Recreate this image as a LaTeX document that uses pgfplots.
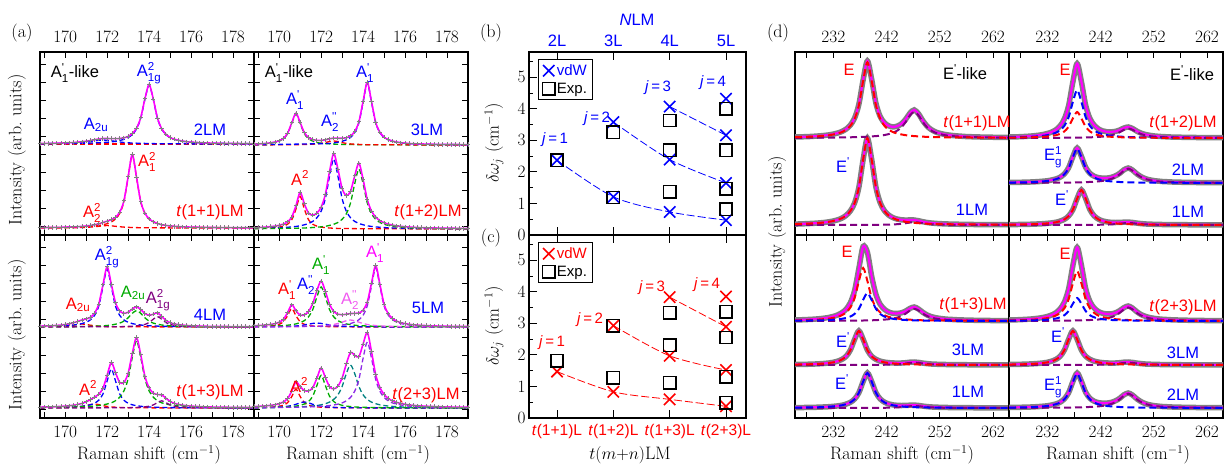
\documentclass[border=0pt]{standalone}
\usepackage{amsmath}
\usepackage{fontspec}
\setsansfont{Liberation Sans}
\usepackage{pgfplots}
\pgfplotsset{compat=1.18}
\usepackage{pgfplotstable}
\definecolor{cblue}{RGB}{0,0,255}
\definecolor{cred}{RGB}{255,0,0}
\definecolor{cgreen}{RGB}{0,170,0}
\definecolor{cmag}{RGB}{255,0,255}
\definecolor{cpurp}{RGB}{128,0,128}
\definecolor{cviol}{RGB}{140,40,230}
\definecolor{cteal}{RGB}{0,128,128}
\definecolor{cgray}{RGB}{128,128,128}
\definecolor{cpink}{RGB}{240,90,240}
\newcommand\LF{\fontsize{16.5}{18}\selectfont\sffamily}
\newcommand\TF{\fontsize{18}{20}\selectfont}
\newcommand\q{\text{\textquotesingle}}
\newcommand\qq{\text{\textquotesingle\textquotesingle}}
\pgfplotsset{
  base/.style={scale only axis, width=214pt, height=183pt, ymin=0, ymax=183, tick align=inside,
    major tick length=6pt, minor tick length=6pt, axis line style={line width=1.1pt},
    tick style={black, line width=0.9pt}, tick label style={font=\TF}, clip=true},
  qa/.style={base, xmin=168.8, xmax=179, xtick={170,172,...,178}, minor xtick={169,171,...,177},
    ytick={9,27,...,180}, yticklabel=\empty},
  qd/.style={base, xmin=224.8, xmax=265, xtick={232,242,252,262}, minor xtick={227,237,247,257}, ytick=\empty},
  toprow/.style={xticklabel pos=top, xtick pos=both, ytick pos=both, xticklabel style={yshift=6pt}},
  botrow/.style={xticklabel pos=bottom, xtick pos=both, ytick pos=both, xticklabel style={yshift=-5pt}},
  dat/.style={only marks, mark=+, mark size=2.2pt, color=cgray, mark options={line width=0.9pt}},
  fitA/.style={cmag, line width=1.6pt, smooth},
  cmp/.style={#1, line width=1.3pt, dash pattern=on 5pt off 3pt, smooth},
  datD/.style={cgray, line width=5.5pt, smooth},
  fitD/.style={cmag, line width=2.2pt, smooth},
  cmpD/.style={#1, line width=2pt, dash pattern=on 7pt off 4pt, smooth},
  bc/.style={at={(529pt,#1)}, anchor=north west, scale only axis, width=217pt, height=183pt,
    xmin=0.503, xmax=4.355, ymin=0, ymax=5.8, xtick={1,2,3,4}, xtick pos=both,
    ytick={0,1,2,3,4,5}, minor ytick={0.5,1.5,2.5,3.5,4.5,5.5}, ytick pos=left,
    yticklabel style={font=\TF}, tick align=inside, major tick length=8pt, minor tick length=4pt,
    axis line style={line width=1.1pt}, tick style={black, line width=0.9pt},
    legend style={at={(0,1)}, anchor=north west, xshift=9pt, yshift=-7pt, draw=black, line width=1pt,
      font=\fontsize{15}{17}\selectfont\sffamily, row sep=2pt, inner xsep=4pt, inner ysep=3pt},
    legend cell align=left},
  vdw/.style={only marks, mark=x, mark size=8pt, #1, mark options={line width=1.6pt}},
  exps/.style={only marks, mark=square, mark size=6.2pt, black, mark options={line width=1.5pt}},
  jl/.style={#1, line width=0.8pt, dash pattern=on 8pt off 3pt, smooth, forget plot},
}
\begin{document}
\pgfplotstableread{
x L2 T11 L3 T12 L4 T13 L5 T23
168.8 91.5 7.4 90.9 7.3 91.9 10.9 92.25 11.4
169.0 91.6 7.5 91.1 7.5 92.0 11.0 92.5 11.6
169.2 91.7 7.5 91.35 7.7 92.1 11.1 92.7 11.9
169.4 91.7 7.6 91.7 8.0 92.3 11.2 93.1 12.2
169.6 91.8 7.6 92.2 8.4 92.6 11.4 93.6 12.7
169.8 92.0 7.7 93.0 8.9 92.95 11.6 94.4 13.3
170.0 92.1 7.9 94.3 9.7 93.5 11.9 95.8 14.3
170.2 92.3 8.0 96.7 10.9 94.2 12.3 98.7 16.05
170.4 92.5 8.1 101.8 13.1 95.3 12.8 105.3 19.4
170.6 92.9 8.3 112.2 18.0 96.6 13.55 113.3 26.9
170.8 93.3 8.6 121.8 29.3 98.0 14.6 107.2 36.1
171.0 93.8 9.0 112.4 42.7 99.1 16.2 102.9 31.3
171.2 94.5 9.5 102.3 31.1 100.7 18.4 103.1 27.5
171.4 95.3 10.3 97.5 22.0 104.8 20.9 106.7 27.1
171.6 96.0 11.2 95.4 19.9 113.9 23.8 114.4 30.3
171.8 96.5 12.5 94.7 22.0 133.1 29.7 127.5 40.0
172.0 96.5 13.8 94.5 27.9 151.2 42.8 137.0 50.0
172.2 96.4 15.4 95.2 40.5 133.7 55.5 126.7 40.6
172.4 96.3 17.7 96.2 63.3 115.3 45.3 113.7 31.4
172.6 96.5 22.9 96.9 81.5 107.1 35.6 106.7 29.1
172.8 97.2 34.2 96.8 65.9 104.7 35.6 103.8 31.9
173.0 98.6 58.2 96.7 46.6 105.8 44.7 103.2 40.0
173.2 101.5 80.5 97.2 39.4 109.0 64.6 103.8 54.1
173.4 106.8 57.9 99.1 43.7 111.2 80.4 104.5 65.5
173.6 117.3 33.6 103.5 59.1 108.5 63.4 104.6 62.7
173.8 136.1 21.9 113.2 71.8 104.5 41.9 105.0 61.3
174.0 150.5 16.2 133.6 55.5 102.8 30.1 107.9 74.0
174.2 135.9 13.3 152.6 35.4 103.8 24.9 116.0 85.5
174.4 116.9 11.5 133.4 24.0 105.1 23.5 134.8 66.4
174.6 106.3 10.3 112.7 18.0 101.6 23.1 152.4 43.5
174.8 100.8 9.6 102.8 14.3 97.7 19.9 133.7 30.5
175.0 97.6 9.1 97.9 12.3 95.4 16.7 113.8 23.6
175.2 95.8 8.7 95.4 10.9 94.1 14.7 104.2 19.6
175.4 94.7 8.4 94.0 9.9 93.4 13.6 99.5 17.1
175.6 93.9 8.2 92.9 9.2 92.9 12.8 96.9 15.6
175.8 93.3 8.0 92.3 8.7 92.5 12.3 95.4 14.5
176.0 92.9 7.9 91.9 8.3 92.3 11.9 94.4 13.7
176.2 92.6 7.8 91.5 8.0 92.1 11.6 93.7 13.1
176.4 92.3 7.7 91.3 7.75 91.9 11.4 93.2 12.6
176.6 92.2 7.6 91.1 7.5 91.8 11.2 92.9 12.3
176.8 92.0 7.55 91.0 7.35 91.7 11.1 92.6 12.0
177.0 91.9 7.5 90.9 7.2 91.65 10.95 92.4 11.8
177.2 91.8 7.45 90.8 7.1 91.6 10.9 92.2 11.6
177.4 91.7 7.4 90.7 7.0 91.55 10.8 92.05 11.4
177.6 91.6 7.4 90.65 6.9 91.5 10.75 91.9 11.3
177.8 91.6 7.35 90.6 6.85 91.45 10.7 91.85 11.2
178.0 91.5 7.3 90.55 6.8 91.4 10.65 91.75 11.05
178.2 91.5 7.3 90.5 6.75 91.4 10.6 91.7 10.95
178.4 91.4 7.3 90.5 6.7 91.35 10.6 91.65 10.9
178.6 91.4 7.25 90.45 6.65 91.35 10.55 91.6 10.85
178.8 91.4 7.25 90.4 6.6 91.3 10.5 91.55 10.8
179.0 91.3 7.2 90.4 6.6 91.3 10.5 91.5 10.75
}\tabA
\pgfplotstableread{
x T11 L1b T12 L2 L1 T13 L3 T23 L2b
224.8 98.0 10.9 98.0 52.5 10.4 98.0 53.5 98.0 10.5
225.6 98.1 11.05 98.1 52.6 10.45 98.15 53.55 98.1 10.6
226.4 98.25 11.2 98.2 52.65 10.5 98.3 53.65 98.25 10.65
227.2 98.4 11.4 98.4 52.75 10.55 98.5 53.75 98.45 10.75
228.0 98.6 11.6 98.6 52.9 10.65 98.7 53.9 98.65 10.9
228.8 98.9 11.85 98.9 53.0 10.75 99.0 54.05 98.95 11.0
229.6 99.2 12.2 99.3 53.2 10.9 99.4 54.3 99.35 11.2
230.4 99.6 12.6 99.8 53.45 11.1 99.9 54.6 99.85 11.45
231.2 100.15 13.2 100.5 53.8 11.3 100.6 55.05 100.55 11.8
232.0 100.9 14.0 101.5 54.2 11.65 101.6 55.7 101.5 12.2
232.8 101.95 15.15 102.9 55.0 12.1 103.0 56.8 103.0 13.0
233.6 103.5 16.85 105.2 56.05 12.75 105.3 58.6 105.25 14.05
234.4 105.9 19.6 109.1 57.8 13.9 108.8 61.7 109.1 15.8
235.2 109.9 24.1 116.1 61.1 15.7 115.3 67.9 115.9 19.1
236.0 117.0 32.1 129.4 67.3 19.0 127.5 78.7 129.1 25.3
236.8 130.8 47.8 153.1 78.4 25.3 149.6 87.1 152.5 36.4
237.6 155.2 75.5 171.4 87.0 36.5 171.6 78.7 170.6 45.0
238.4 174.0 96.9 153.3 78.6 45.1 165.6 67.9 152.7 36.6
239.2 155.7 75.6 129.7 67.7 36.5 141.8 61.75 129.5 25.7
240.0 131.8 47.9 116.5 61.7 25.35 123.6 58.7 116.5 19.7
240.8 118.5 32.3 109.8 58.8 19.1 113.7 56.9 110.0 16.8
241.6 112.2 24.3 106.1 57.35 15.85 108.7 55.9 106.5 15.35
242.4 109.2 19.9 104.1 56.8 14.1 106.0 55.35 104.7 14.8
243.2 108.1 17.4 103.2 56.9 13.1 104.7 55.05 104.0 14.9
244.0 108.9 15.9 103.1 57.6 12.65 104.5 54.9 104.1 15.6
244.8 111.2 15.2 103.6 59.2 12.5 105.2 55.0 105.2 17.2
245.6 115.8 14.9 105.0 61.7 12.55 107.0 55.3 107.4 19.7
246.4 121.9 15.1 107.0 65.2 12.85 109.6 55.8 110.4 23.2
247.2 125.1 15.0 108.0 67.0 12.95 111.0 56.0 112.0 25.0
248.0 121.2 14.3 106.5 64.9 12.55 109.0 55.6 109.9 22.9
248.8 114.4 13.3 103.9 61.2 11.9 105.7 54.9 106.3 19.2
249.6 108.9 12.5 101.9 58.4 11.4 103.1 54.4 103.5 16.4
250.4 105.4 12.0 100.55 56.4 11.05 101.4 54.0 101.7 14.4
251.2 103.1 11.6 99.7 55.2 10.85 100.3 53.8 100.5 13.2
252.0 101.7 11.35 99.1 54.4 10.7 99.6 53.65 99.7 12.4
252.8 100.7 11.15 98.7 53.9 10.55 99.1 53.55 99.15 11.9
253.6 100.0 11.0 98.4 53.5 10.5 98.7 53.45 98.75 11.5
254.4 99.5 10.9 98.2 53.3 10.4 98.5 53.4 98.5 11.3
255.2 99.1 10.8 98.0 53.05 10.35 98.25 53.35 98.25 11.05
256.0 98.8 10.7 97.9 52.9 10.35 98.1 53.3 98.1 10.9
256.8 98.5 10.6 97.8 52.8 10.3 97.95 53.27 97.95 10.8
257.6 98.3 10.55 97.7 52.7 10.3 97.85 53.24 97.85 10.7
258.4 98.2 10.5 97.6 52.6 10.25 97.75 53.2 97.75 10.6
259.2 98.05 10.5 97.6 52.55 10.2 97.7 53.2 97.65 10.55
260.0 97.95 10.45 97.5 52.5 10.2 97.6 53.2 97.6 10.5
260.8 97.9 10.4 97.5 52.4 10.2 97.55 53.18 97.55 10.4
261.6 97.8 10.35 97.4 52.4 10.2 97.5 53.17 97.5 10.4
262.4 97.7 10.35 97.4 52.35 10.15 97.5 53.15 97.45 10.35
263.2 97.6 10.3 97.35 52.3 10.15 97.45 53.15 97.4 10.3
264.0 97.6 10.3 97.35 52.3 10.15 97.4 53.13 97.4 10.3
264.8 97.5 10.3 97.3 52.3 10.1 97.4 53.13 97.35 10.3
265.6 97.5 10.25 97.3 52.25 10.1 97.4 53.12 97.35 10.25
}\tabD
\begin{tikzpicture}
% ================= (a) top-left =================
\begin{axis}[qa, toprow, at={(40pt,-52pt)}, anchor=north west]
\addplot[dat] table[x=x,y=L2]{\tabA};
\addplot[dat] table[x=x,y=T11]{\tabA};
\addplot[cmp=cred] coordinates {(168.8,91) (179,91)};
\addplot[cmp=cblue] coordinates {(168.8,91.3) (171.0,91.8) (172.0,92.75) (172.4,93.7) (172.8,95.6) (173.0,97.4) (173.2,100.5) (173.4,106) (173.6,116.6) (173.8,135.5) (174.0,150) (174.2,135.5) (174.4,116.6) (174.6,106) (174.8,100.5) (175.0,97.4) (175.2,95.6) (175.6,93.7) (176.0,92.75) (177.0,91.8) (179.0,91.3)};
\addplot[cmp=cblue] coordinates {(168.8,91.3) (169.8,91.6) (170.6,92.2) (171.0,93) (171.4,94.2) (171.8,95) (172.2,94.2) (172.6,93) (173.0,92.2) (173.8,91.6) (175,91.2) (179,91.1)};
\addplot[cmp=cred] coordinates {(168.8,7.3) (170.2,7.7) (171.2,8.6) (171.6,9.5) (172.0,11.3) (172.2,13.1) (172.4,16) (172.6,21.6) (172.8,33.3) (173.0,57.5) (173.2,80) (173.4,57.5) (173.6,33.3) (173.8,21.6) (174.0,16) (174.2,13.1) (174.4,11.3) (174.8,9.5) (175.2,8.6) (176.2,7.7) (179,7.2)};
\addplot[cmp=cred] coordinates {(168.8,7) (170.0,7.2) (170.8,7.5) (171.2,7.9) (171.6,8.7) (172.0,9.5) (172.4,8.7) (172.8,7.9) (173.2,7.5) (174,7.2) (176,7.05) (179,7)};
\addplot[fitA] table[x=x,y=L2]{\tabA};
\addplot[fitA] table[x=x,y=T11]{\tabA};
\end{axis}
% ================= (a) top-right =================
\begin{axis}[qa, toprow, at={(254pt,-52pt)}, anchor=north west]
\addplot[dat] table[x=x,y=L3]{\tabA};
\addplot[dat] table[x=x,y=T12]{\tabA};
\addplot[cmp=cgreen] coordinates {(168.8,90.7) (169.6,91.8) (170.0,93.8) (170.2,96.2) (170.4,101.2) (170.6,111.5) (170.8,121) (171.0,111.5) (171.2,101.2) (171.4,96.2) (171.6,93.8) (172.0,91.8) (173.0,90.6) (175,90.2) (179,90.1)};
\addplot[cmp=cred] coordinates {(168.8,90.1) (170.6,90.24) (171.4,90.6) (171.8,91.1) (172.0,91.6) (172.2,92.4) (172.4,93.5) (172.6,94) (172.8,93.5) (173.0,92.4) (173.2,91.6) (173.4,91.1) (173.8,90.6) (174.6,90.24) (179,90.05)};
\addplot[cmp=cblue] coordinates {(168.8,90.2) (172.2,91.4) (172.6,92.1) (173.0,93.7) (173.2,95.1) (173.4,97.6) (173.6,102.4) (173.8,112.3) (174.0,132.9) (174.2,152) (174.4,132.9) (174.6,112.3) (174.8,102.4) (175.0,97.6) (175.2,95.1) (175.4,93.7) (175.8,92.1) (176.2,91.4) (177.2,90.6) (179,90.3)};
\addplot[cmp=cred] coordinates {(168.8,6.4) (169.6,7) (170.0,7.9) (170.2,8.9) (170.4,10.8) (170.6,15.2) (170.8,25.9) (171.0,38.6) (171.2,25.9) (171.4,15.2) (171.6,10.8) (171.8,8.9) (172.0,7.9) (172.4,7) (173.0,6.5) (175,6.2) (179,6.1)};
\addplot[cmp=cblue] coordinates {(168.8,6.6) (170.0,7.25) (170.6,8.1) (171.0,9.2) (171.4,11.5) (171.6,13.6) (171.8,17.3) (172.0,23.8) (172.2,36.4) (172.4,58.8) (172.6,76) (172.8,58.8) (173.0,36.4) (173.2,23.8) (173.4,17.3) (173.6,13.6) (173.8,11.5) (174.2,9.2) (174.6,8.1) (175.2,7.25) (176.4,6.6) (179,6.3)};
\addplot[cmp=cgreen] coordinates {(168.8,6.3) (171.0,6.9) (171.8,7.8) (172.2,8.7) (172.6,10.7) (172.8,12.5) (173.0,15.7) (173.2,21.2) (173.4,32) (173.6,51.2) (173.8,66) (174.0,51.2) (174.2,32) (174.4,21.2) (174.6,15.7) (174.8,12.5) (175.0,10.7) (175.4,8.7) (175.8,7.8) (176.6,6.9) (179,6.3)};
\addplot[fitA] table[x=x,y=L3]{\tabA};
\addplot[fitA] table[x=x,y=T12]{\tabA};
\end{axis}
% ================= (a) bottom-left =================
\begin{axis}[qa, botrow, at={(40pt,-235pt)}, anchor=north west]
\addplot[dat] table[x=x,y=L4]{\tabA};
\addplot[dat] table[x=x,y=T13]{\tabA};
\addplot[cmp=cred] coordinates {(168.8,91.2) (169.6,91.4) (170.0,91.8) (170.2,92.2) (170.4,92.8) (170.6,93.6) (170.8,94) (171.0,93.6) (171.2,92.8) (171.4,92.2) (171.6,91.8) (172.0,91.4) (172.8,91.2) (179,91)};
\addplot[cmp=cblue] coordinates {(168.8,91.5) (170.0,92.3) (170.4,93) (170.8,94.4) (171.0,95.8) (171.2,98.1) (171.4,102.6) (171.6,111.9) (171.8,131.1) (172.0,149) (172.2,131.1) (172.4,111.9) (172.6,102.6) (172.8,98.1) (173.0,95.8) (173.2,94.4) (173.6,93) (174.0,92.3) (175.2,91.5) (179,91.2)};
\addplot[cmp=cgreen] coordinates {(168.8,91.15) (170.6,91.4) (171.4,91.8) (171.8,92.2) (172.0,92.5) (172.2,93) (172.4,93.8) (172.6,94.9) (172.8,96.9) (173.0,100.2) (173.2,104.7) (173.4,107.4) (173.6,104.7) (173.8,100.2) (174.0,96.9) (174.2,94.9) (174.4,93.8) (174.6,93) (174.8,92.5) (175.0,92.2) (175.4,91.8) (176.2,91.4) (179,91.1)};
\addplot[cmp=cpurp] coordinates {(168.8,91.05) (172.4,91.3) (172.8,91.5) (173.2,91.8) (173.6,92.7) (173.8,93.6) (174.0,95.5) (174.2,98.8) (174.4,101.4) (174.6,98.8) (174.8,95.5) (175.0,93.6) (175.2,92.7) (175.6,91.8) (176.0,91.5) (176.4,91.3) (179,91.05)};
\addplot[cmp=cred] coordinates {(168.8,10.1) (169.4,10.25) (170.0,10.45) (170.4,10.8) (170.6,11.1) (170.8,11.6) (171.0,12.4) (171.2,13.45) (171.4,14) (171.6,13.45) (171.8,12.4) (172.0,11.6) (172.2,11.1) (172.4,10.8) (172.8,10.45) (173.4,10.25) (175,10.1) (179,10.05)};
\addplot[cmp=cblue] coordinates {(168.8,10.3) (170.2,10.9) (170.6,11.3) (171.0,12.3) (171.2,13.2) (171.4,14.8) (171.6,17.8) (171.8,24) (172.0,37) (172.2,49) (172.4,37) (172.6,24) (172.8,17.8) (173.0,14.8) (173.2,13.2) (173.4,12.3) (173.8,11.3) (174.2,10.9) (175.4,10.3) (179,10.1)};
\addplot[cmp=cgreen] coordinates {(168.8,10.4) (171.0,11.4) (171.8,13.1) (172.0,14) (172.2,15.2) (172.4,17.3) (172.6,20.8) (172.8,27.1) (173.0,39.2) (173.2,60.7) (173.4,77.3) (173.6,60.7) (173.8,39.2) (174.0,27.1) (174.2,20.8) (174.4,17.3) (174.6,15.2) (174.8,14) (175.0,13.1) (175.8,11.4) (177.0,10.6) (179.0,10.3)};
\addplot[cmp=cpurp] coordinates {(168.8,10.03) (172.6,10.2) (173.0,10.33) (173.4,10.56) (173.8,11.16) (174.0,11.8) (174.2,13.1) (174.4,15.4) (174.6,17.2) (174.8,15.4) (175.0,13.1) (175.2,11.8) (175.4,11.16) (175.8,10.56) (176.2,10.33) (176.6,10.2) (179,10.03)};
\addplot[fitA] table[x=x,y=L4]{\tabA};
\addplot[fitA] table[x=x,y=T13]{\tabA};
\end{axis}
% ================= (a) bottom-right =================
\begin{axis}[qa, botrow, at={(254pt,-235pt)}, anchor=north west]
\addplot[dat] table[x=x,y=L5]{\tabA};
\addplot[dat] table[x=x,y=T23]{\tabA};
\addplot[cmp=cred] coordinates {(168.8,91.35) (169.4,91.8) (169.8,92.65) (170.0,93.7) (170.2,96.2) (170.4,102.3) (170.6,109.5) (170.8,102.3) (171.0,96.2) (171.2,93.7) (171.4,92.65) (171.8,91.8) (172.6,91.3) (174.6,91.07) (179,91.02)};
\addplot[cmp=cblue] coordinates {(168.8,91.15) (169.8,91.33) (170.6,91.8) (171.0,92.4) (171.2,93) (171.4,93.8) (171.6,94.6) (171.8,95) (172.0,94.6) (172.2,93.8) (172.4,93) (172.6,92.4) (173.0,91.8) (173.8,91.33) (175,91.14) (179,91.05)};
\addplot[cmp=cgreen] coordinates {(168.8,91.5) (170.0,92.2) (170.4,92.8) (170.8,94.1) (171.0,95.4) (171.2,97.4) (171.4,101.2) (171.6,108.4) (171.8,121.2) (172.0,131) (172.2,121.2) (172.4,108.4) (172.6,101.2) (172.8,97.4) (173.0,95.4) (173.2,94.1) (173.6,92.8) (174.0,92.2) (175.2,91.5) (179,91.15)};
\addplot[cmp=cpink] coordinates {(168.8,91.1) (170.6,91.3) (171.4,91.6) (171.8,91.9) (172.0,92.1) (172.2,92.4) (172.4,92.9) (172.6,93.5) (172.8,94.5) (173.0,95.8) (173.2,97.3) (173.4,98) (173.6,97.3) (173.8,95.8) (174.0,94.5) (174.2,93.5) (174.4,92.9) (174.6,92.4) (174.8,92.1) (175.0,91.9) (175.4,91.6) (176.2,91.3) (179,91.08)};
\addplot[cmp=cviol] coordinates {(168.8,91.16) (172.2,91.9) (172.8,92.6) (173.2,93.6) (173.4,94.5) (173.6,95.9) (173.8,98.3) (174.0,102.8) (174.2,112.2) (174.4,131.8) (174.6,150) (174.8,131.8) (175.0,112.2) (175.2,102.8) (175.4,98.3) (175.6,95.9) (175.8,94.5) (176.0,93.6) (176.4,92.6) (177.0,91.9) (179,91.3)};
\addplot[cmp=cred] coordinates {(168.8,10.3) (169.4,10.6) (169.8,11.1) (170.0,11.7) (170.2,12.8) (170.4,15.3) (170.6,21.5) (170.8,28.8) (171.0,21.5) (171.2,15.3) (171.4,12.8) (171.6,11.7) (171.8,11.1) (172.2,10.6) (173.0,10.3) (175,10.1) (179,10.05)};
\addplot[cmp=cblue] coordinates {(168.8,10.25) (169.6,10.5) (170.0,10.9) (170.2,11.2) (170.4,11.7) (170.6,12.5) (170.8,13.7) (171.0,15.2) (171.2,16) (171.4,15.2) (171.6,13.7) (171.8,12.5) (172.0,11.7) (172.2,11.2) (172.4,10.9) (172.8,10.5) (174.2,10.16) (179,10.03)};
\addplot[cmp=cgreen] coordinates {(168.8,10.3) (170.0,10.7) (170.4,11.1) (170.8,11.9) (171.0,12.7) (171.2,14) (171.4,16.5) (171.6,21.8) (171.8,32.6) (172.0,42.7) (172.2,32.6) (172.4,21.8) (172.6,16.5) (172.8,14) (173.0,12.7) (173.2,11.9) (173.6,11.1) (174.0,10.7) (175.2,10.3) (179,10.1)};
\addplot[cmp=cteal] coordinates {(168.8,10.3) (170.6,10.9) (171.4,11.6) (171.8,12.5) (172.0,13.2) (172.2,14.3) (172.4,15.9) (172.6,18.6) (172.8,23.2) (173.0,31.5) (173.2,44.4) (173.4,53) (173.6,44.4) (173.8,31.5) (174.0,23.2) (174.2,18.6) (174.4,15.9) (174.6,14.3) (174.8,13.2) (175.0,12.5) (175.4,11.6) (176.2,10.9) (179,10.2)};
\addplot[cmp=cviol] coordinates {(168.8,10.3) (171.0,10.9) (171.8,11.4) (172.2,12) (172.6,13) (172.8,13.9) (173.0,15.1) (173.2,17.2) (173.4,20.6) (173.6,26.8) (173.8,38.6) (174.0,59.8) (174.2,76) (174.4,59.8) (174.6,38.6) (174.8,26.8) (175.0,20.6) (175.2,17.2) (175.4,15.1) (175.6,13.9) (175.8,13) (176.2,12) (176.6,11.4) (177.4,10.9) (179,10.4)};
\addplot[fitA] table[x=x,y=L5]{\tabA};
\addplot[fitA] table[x=x,y=T23]{\tabA};
\end{axis}
% ================= (b) =================
\begin{axis}[bc=-52pt, xticklabels={2L,3L,4L,5L}, xticklabel pos=top,
  xticklabel style={font=\LF, text=cblue, yshift=2pt}]
\addplot[vdw=cblue] coordinates {(1,2.37) (2,3.58) (2,1.21) (3,4.07) (3,2.39) (3,0.73) (4,4.32) (4,3.16) (4,1.65) (4,0.47)};
\addlegendentry{\textcolor{cblue}{vdW}}
\addplot[exps] coordinates {(1,2.37) (2,3.26) (2,1.19) (3,3.63) (3,2.68) (3,1.37) (4,4.0) (4,2.68) (4,1.47) (4,0.81)};
\addlegendentry{Exp.}
\addplot[jl=cblue] coordinates {(1,2.37) (2,1.21) (3,0.73) (4,0.47)};
\addplot[jl=cblue] coordinates {(2,3.58) (3,2.39) (4,1.65)};
\addplot[jl=cblue] coordinates {(3,4.07) (4,3.16)};
\end{axis}
% ================= (c) =================
\begin{axis}[bc=-235pt, xticklabels={\textit{t}(1+1)L,\textit{t}(1+2)L,\textit{t}(1+3)L,\textit{t}(2+3)L},
  xticklabel pos=bottom, xticklabel style={font=\fontsize{15.5}{17}\selectfont\sffamily, text=cred, yshift=-3pt}]
\addplot[vdw=cred] coordinates {(1,1.47) (2,2.93) (2,0.83) (3,3.83) (3,1.97) (3,0.59) (4,3.85) (4,2.89) (4,1.52) (4,0.37)};
\addlegendentry{\textcolor{cred}{vdW}}
\addplot[exps] coordinates {(1,1.81) (2,2.93) (2,1.28) (3,3.33) (3,2.31) (3,1.12) (4,3.37) (4,2.55) (4,1.31) (4,0.48)};
\addlegendentry{Exp.}
\addplot[jl=cred] coordinates {(1,1.47) (2,0.83) (3,0.59) (4,0.37)};
\addplot[jl=cred] coordinates {(2,2.93) (3,1.97) (4,1.52)};
\addplot[jl=cred] coordinates {(3,3.83) (4,2.89)};
\end{axis}
% ================= (d) top-left =================
\begin{axis}[qd, toprow, at={(795pt,-52pt)}, anchor=north west]
\addplot[datD] table[x=x,y=T11]{\tabD};
\addplot[datD] table[x=x,y=L1b]{\tabD};
\addplot[fitD] table[x=x,y=T11]{\tabD};
\addplot[fitD] table[x=x,y=L1b]{\tabD};
\addplot[cmpD=cpurp] coordinates {(224.8,97.2) (232.8,97.5) (237.6,98.1) (240.8,99.3) (242.4,100.9) (243.2,102.2) (244.0,104.4) (244.8,107.7) (245.6,113) (246.4,119.6) (247.2,123.2) (248.0,119.6) (248.8,113) (249.6,107.7) (250.4,104.4) (251.2,102.2) (252.0,100.9) (253.6,99.3) (256.8,98.1) (261.6,97.5) (265.6,97.3)};
\addplot[cmpD=cred] coordinates {(224.8,97.8) (228.8,98.6) (231.2,99.8) (232.8,101.45) (233.6,102.9) (234.4,105.3) (235.2,109.2) (236.0,116.2) (236.8,129.9) (237.6,154.1) (238.4,172.7) (239.2,154.1) (240.0,129.9) (240.8,116.2) (241.6,109.2) (242.4,105.3) (243.2,102.9) (244.0,101.45) (245.6,99.8) (248.0,98.6) (252.0,97.8) (265.6,97.2)};
\addplot[cmpD=cpurp] coordinates {(224.8,10) (236.0,10.1) (240.8,10.25) (242.4,10.4) (244.0,10.8) (244.8,11.2) (245.6,11.8) (246.4,12.5) (247.2,12.9) (248.0,12.5) (248.8,11.8) (249.6,11.2) (250.4,10.8) (252.0,10.4) (253.6,10.25) (258.4,10.1) (265.6,10.03)};
\addplot[cmpD=cred] coordinates {(224.8,10.9) (228.8,11.8) (231.2,13.2) (232.8,15.1) (233.6,16.8) (234.4,19.5) (235.2,24) (236.0,32) (236.8,47.7) (237.6,75.4) (238.4,96.8) (239.2,75.4) (240.0,47.7) (240.8,32) (241.6,24) (242.4,19.5) (243.2,16.8) (244.0,15.1) (245.6,13.2) (248.0,11.8) (252.0,10.9) (265.6,10.2)};
\end{axis}
% ================= (d) top-right =================
\begin{axis}[qd, toprow, at={(1009pt,-52pt)}, anchor=north west]
\addplot[datD] table[x=x,y=T12]{\tabD};
\addplot[datD] table[x=x,y=L2]{\tabD};
\addplot[datD] table[x=x,y=L1]{\tabD};
\addplot[fitD] table[x=x,y=T12]{\tabD};
\addplot[fitD] table[x=x,y=L2]{\tabD};
\addplot[fitD] table[x=x,y=L1]{\tabD};
\addplot[cmpD=cpurp] coordinates {(224.8,97.1) (234.4,97.25) (239.2,97.55) (240.8,97.85) (242.4,98.4) (244.0,99.7) (244.8,100.9) (245.6,102.8) (246.4,105.2) (247.2,106.5) (248.0,105.2) (248.8,102.8) (249.6,100.9) (250.4,99.7) (252.0,98.4) (253.6,97.85) (255.2,97.55) (260.0,97.25) (265.6,97.1)};
\addplot[cmpD=cblue] coordinates {(224.8,97.6) (228.0,98) (229.6,98.4) (231.2,99.2) (232.8,100.7) (233.6,102.2) (234.4,104.7) (235.2,109.2) (236.0,117.8) (236.8,133.2) (237.6,145) (238.4,133.2) (239.2,117.8) (240.0,109.2) (240.8,104.7) (241.6,102.2) (242.4,100.7) (244.0,99.2) (245.6,98.4) (247.2,98) (250.4,97.6) (265.6,97.1)};
\addplot[cmpD=cred] coordinates {(224.8,97.3) (229.6,97.8) (232.0,98.5) (232.8,99) (233.6,99.8) (234.4,101.2) (235.2,103.6) (236.0,108.3) (236.8,116.6) (237.6,123) (238.4,116.6) (239.2,108.3) (240.0,103.6) (240.8,101.2) (241.6,99.8) (242.4,99) (243.2,98.5) (245.6,97.8) (250.4,97.3) (265.6,97.1)};
\addplot[cmpD=cpurp] coordinates {(224.8,52.1) (234.4,52.35) (237.6,52.6) (239.2,52.85) (240.8,53.3) (241.6,53.6) (242.4,54.1) (243.2,54.9) (244.0,56) (244.8,57.9) (245.6,60.7) (246.4,64.3) (247.2,66.3) (248.0,64.3) (248.8,60.7) (249.6,57.9) (250.4,56) (251.2,54.9) (252.0,54.1) (252.8,53.6) (253.6,53.3) (255.2,52.85) (256.8,52.6) (260.0,52.35) (265.6,52.2)};
\addplot[cmpD=cblue] coordinates {(224.8,52.4) (228.0,52.7) (229.6,53.0) (231.2,53.6) (232.0,54.0) (232.8,54.7) (233.6,55.75) (234.4,57.5) (235.2,60.7) (236.0,66.9) (236.8,77.9) (237.6,86.4) (238.4,77.9) (239.2,66.9) (240.0,60.7) (240.8,57.5) (241.6,55.75) (242.4,54.7) (243.2,54.0) (244.0,53.6) (245.6,53.0) (247.2,52.7) (250.4,52.4) (265.6,52.1)};
\addplot[cmpD=cpurp] coordinates {(224.8,10) (237.6,10.1) (240.8,10.2) (242.4,10.3) (244.0,10.6) (244.8,10.9) (245.6,11.3) (246.4,11.8) (247.2,12.1) (248.0,11.8) (248.8,11.3) (249.6,10.9) (250.4,10.6) (252.0,10.3) (253.6,10.2) (256.8,10.1) (265.6,10.02)};
\addplot[cmpD=cred] coordinates {(224.8,10.4) (228.8,10.7) (230.4,11.0) (231.2,11.3) (232.0,11.6) (232.8,12.1) (233.6,12.7) (234.4,13.8) (235.2,15.6) (236.0,18.9) (236.8,25.2) (237.6,36.4) (238.4,45) (239.2,36.4) (240.0,25.2) (240.8,18.9) (241.6,15.6) (242.4,13.8) (243.2,12.7) (244.0,12.1) (244.8,11.6) (245.6,11.3) (246.4,11.0) (248.0,10.7) (252.8,10.3) (265.6,10.1)};
\end{axis}
% ================= (d) bottom-left =================
\begin{axis}[qd, botrow, at={(795pt,-235pt)}, anchor=north west]
\addplot[datD] table[x=x,y=T13]{\tabD};
\addplot[datD] table[x=x,y=L3]{\tabD};
\addplot[datD] table[x=x,y=L1]{\tabD};
\addplot[fitD] table[x=x,y=T13]{\tabD};
\addplot[fitD] table[x=x,y=L3]{\tabD};
\addplot[fitD] table[x=x,y=L1]{\tabD};
\addplot[cmpD=cpurp] coordinates {(224.8,97.1) (234.4,97.3) (237.6,97.5) (239.2,97.7) (240.8,98.1) (241.6,98.4) (242.4,98.8) (243.2,99.4) (244.0,100.4) (244.8,102) (245.6,104.4) (246.4,107.5) (247.2,109.2) (248.0,107.5) (248.8,104.4) (249.6,102) (250.4,100.4) (251.2,99.4) (252.0,98.8) (252.8,98.4) (253.6,98.1) (255.2,97.7) (256.8,97.5) (260.0,97.3) (265.6,97.1)};
\addplot[cmpD=cred] coordinates {(224.8,97.6) (228.0,98.1) (229.6,98.6) (231.2,99.4) (232.0,100.1) (232.8,101.1) (233.6,102.8) (234.4,105.5) (235.2,110.5) (236.0,120) (236.8,137) (237.6,150) (238.4,137) (239.2,120) (240.0,110.5) (240.8,105.5) (241.6,102.8) (242.4,101.1) (243.2,100.1) (244.0,99.4) (245.6,98.6) (247.2,98.1) (250.4,97.6) (265.6,97.2)};
\addplot[cmpD=cblue] coordinates {(224.8,97.3) (228.8,97.6) (230.4,97.8) (232.0,98.3) (232.8,98.65) (233.6,99.2) (234.4,100.05) (235.2,101.5) (236.0,104.1) (236.8,109.2) (237.6,118.1) (238.4,125) (239.2,118.1) (240.0,109.2) (240.8,104.1) (241.6,101.5) (242.4,100.05) (243.2,99.2) (244.0,98.65) (244.8,98.3) (246.4,97.8) (248.0,97.6) (252.0,97.3) (265.6,97.1)};
\addplot[cmpD=cpurp] coordinates {(224.8,53) (237.6,53.1) (240.8,53.2) (242.4,53.35) (244.0,53.7) (244.8,54) (245.6,54.5) (246.4,55.1) (247.2,55.4) (248.0,55.1) (248.8,54.5) (249.6,54) (250.4,53.7) (252.0,53.35) (253.6,53.2) (256.8,53.1) (265.6,53.02)};
\addplot[cmpD=cred] coordinates {(224.8,53.45) (227.2,53.7) (228.8,54) (229.6,54.25) (230.4,54.55) (231.2,55) (232.0,55.65) (232.8,56.7) (233.6,58.5) (234.4,61.6) (235.2,67.8) (236.0,78.6) (236.8,87) (237.6,78.6) (238.4,67.8) (239.2,61.6) (240.0,58.5) (240.8,56.7) (241.6,55.65) (242.4,55) (243.2,54.55) (244.0,54.25) (244.8,54) (246.4,53.7) (251.2,53.3) (265.6,53.1)};
\addplot[cmpD=cpurp] coordinates {(224.8,10) (237.6,10.1) (240.8,10.2) (242.4,10.3) (244.0,10.6) (244.8,10.9) (245.6,11.3) (246.4,11.8) (247.2,12.1) (248.0,11.8) (248.8,11.3) (249.6,10.9) (250.4,10.6) (252.0,10.3) (253.6,10.2) (256.8,10.1) (265.6,10.02)};
\addplot[cmpD=cblue] coordinates {(224.8,10.4) (228.8,10.7) (230.4,11.0) (231.2,11.3) (232.0,11.6) (232.8,12.1) (233.6,12.7) (234.4,13.8) (235.2,15.6) (236.0,18.9) (236.8,25.2) (237.6,36.4) (238.4,45) (239.2,36.4) (240.0,25.2) (240.8,18.9) (241.6,15.6) (242.4,13.8) (243.2,12.7) (244.0,12.1) (244.8,11.6) (245.6,11.3) (246.4,11.0) (248.0,10.7) (252.8,10.3) (265.6,10.1)};
\end{axis}
% ================= (d) bottom-right =================
\begin{axis}[qd, botrow, at={(1009pt,-235pt)}, anchor=north west]
\addplot[datD] table[x=x,y=T23]{\tabD};
\addplot[datD] table[x=x,y=L3]{\tabD};
\addplot[datD] table[x=x,y=L2b]{\tabD};
\addplot[fitD] table[x=x,y=T23]{\tabD};
\addplot[fitD] table[x=x,y=L3]{\tabD};
\addplot[fitD] table[x=x,y=L2b]{\tabD};
\addplot[cmpD=cpurp] coordinates {(224.8,97.1) (234.4,97.3) (237.6,97.6) (239.2,97.8) (240.8,98.2) (241.6,98.5) (242.4,99) (243.2,99.7) (244.0,100.8) (244.8,102.5) (245.6,105.2) (246.4,108.6) (247.2,110.5) (248.0,108.6) (248.8,105.2) (249.6,102.5) (250.4,100.8) (251.2,99.7) (252.0,99) (252.8,98.5) (253.6,98.2) (255.2,97.8) (256.8,97.6) (260.0,97.3) (265.6,97.1)};
\addplot[cmpD=cred] coordinates {(224.8,97.6) (228.0,98) (229.6,98.5) (230.4,98.8) (231.2,99.3) (232.0,99.9) (232.8,100.9) (233.6,102.45) (234.4,105.05) (235.2,109.7) (236.0,118.7) (236.8,134.7) (237.6,147) (238.4,134.7) (239.2,118.7) (240.0,109.7) (240.8,105.05) (241.6,102.45) (242.4,100.9) (243.2,99.9) (244.0,99.3) (244.8,98.8) (245.6,98.5) (247.2,98) (250.4,97.6) (256.8,97.3) (265.6,97.15)};
\addplot[cmpD=cblue] coordinates {(224.8,97.3) (228.0,97.5) (229.6,97.7) (231.2,98.05) (232.0,98.35) (232.8,98.8) (233.6,99.5) (234.4,100.7) (235.2,102.8) (236.0,107) (236.8,114.3) (237.6,120) (238.4,114.3) (239.2,107) (240.0,102.8) (240.8,100.7) (241.6,99.5) (242.4,98.8) (243.2,98.35) (244.0,98.05) (245.6,97.7) (247.2,97.5) (250.4,97.3) (265.6,97.1)};
\addplot[cmpD=cpurp] coordinates {(224.8,53) (237.6,53.1) (240.8,53.2) (242.4,53.35) (244.0,53.7) (244.8,54) (245.6,54.5) (246.4,55.1) (247.2,55.4) (248.0,55.1) (248.8,54.5) (249.6,54) (250.4,53.7) (252.0,53.35) (253.6,53.2) (256.8,53.1) (265.6,53.02)};
\addplot[cmpD=cred] coordinates {(224.8,53.45) (227.2,53.7) (228.8,54) (229.6,54.25) (230.4,54.55) (231.2,55) (232.0,55.65) (232.8,56.7) (233.6,58.5) (234.4,61.6) (235.2,67.8) (236.0,78.6) (236.8,87) (237.6,78.6) (238.4,67.8) (239.2,61.6) (240.0,58.5) (240.8,56.7) (241.6,55.65) (242.4,55) (243.2,54.55) (244.0,54.25) (244.8,54) (246.4,53.7) (251.2,53.3) (265.6,53.1)};
\addplot[cmpD=cpurp] coordinates {(224.8,10.1) (234.4,10.35) (237.6,10.6) (239.2,10.85) (240.8,11.3) (241.6,11.6) (242.4,12.1) (243.2,12.9) (244.0,14) (244.8,15.9) (245.6,18.7) (246.4,22.3) (247.2,24.3) (248.0,22.3) (248.8,18.7) (249.6,15.9) (250.4,14) (251.2,12.9) (252.0,12.1) (252.8,11.6) (253.6,11.3) (255.2,10.85) (256.8,10.6) (260.0,10.35) (265.6,10.2)};
\addplot[cmpD=cblue] coordinates {(224.8,10.4) (228.0,10.7) (229.6,11.0) (231.2,11.6) (232.0,12.0) (232.8,12.7) (233.6,13.75) (234.4,15.5) (235.2,18.7) (236.0,24.9) (236.8,35.9) (237.6,44.4) (238.4,35.9) (239.2,24.9) (240.0,18.7) (240.8,15.5) (241.6,13.75) (242.4,12.7) (243.2,12.0) (244.0,11.6) (245.6,11.0) (247.2,10.7) (250.4,10.4) (265.6,10.1)};
\end{axis}
% ================= texts =================
\begin{scope}[every node/.style={font=\TF, inner sep=0pt}]
\node at (22pt,-33pt) {(a)};
\node at (491pt,-33pt) {(b)};
\node at (491pt,-238pt) {(c)};
\node at (778pt,-33pt) {(d)};
\node[rotate=90] at (17pt,-150pt) {Intensity (arb.\ units)};
\node[rotate=90] at (17pt,-335pt) {Intensity (arb.\ units)};
\node[rotate=90] at (777pt,-232pt) {Intensity (arb.\ units)};
\node[rotate=90] at (494pt,-143pt) {$\delta\omega_j$ (cm$^{-1}$)};
\node[rotate=90] at (494pt,-326pt) {$\delta\omega_j$ (cm$^{-1}$)};
\node at (149pt,-455pt) {Raman shift (cm$^{-1}$)};
\node at (358pt,-455pt) {Raman shift (cm$^{-1}$)};
\node at (902pt,-455pt) {Raman shift (cm$^{-1}$)};
\node at (1118pt,-455pt) {Raman shift (cm$^{-1}$)};
\node at (630pt,-455pt) {$t(m{+}n)$LM};
\end{scope}
\begin{scope}[every node/.style={font=\LF, inner sep=0pt}]
% (a) TL
\node at (75pt,-73pt) {A$^{\q}_{\text{1}}$-like};
\node[text=cblue] at (149pt,-73pt) {A$^{\text{2}}_{\text{1g}}$};
\node[text=cblue] at (96pt,-125pt) {A$_{\text{2u}}$};
\node[text=cblue] at (210pt,-130pt) {2LM};
\node[text=cred] at (147pt,-162pt) {A$^{\text{2}}_{\text{1}}$};
\node[text=cred] at (92pt,-213pt) {A$^{\text{2}}_{\text{2}}$};
\node[text=cred] at (210pt,-212pt) {\textit{t}(1+1)LM};
% (a) TR
\node at (289pt,-73pt) {A$^{\q}_{\text{1}}$-like};
\node[text=cblue] at (365pt,-73pt) {A$^{\q}_{\text{1}}$};
\node[text=cblue] at (295pt,-100pt) {A$^{\q}_{\text{1}}$};
\node[text=cblue] at (330pt,-122pt) {A$^{\qq}_{\text{2}}$};
\node[text=cblue] at (427pt,-130pt) {3LM};
\node[text=cred] at (300pt,-178pt) {A$^{\text{2}}$};
\node[text=cred] at (428pt,-212pt) {\textit{t}(1+2)LM};
% (a) BL
\node[text=cblue] at (107pt,-257pt) {A$^{\text{2}}_{\text{1g}}$};
\node[text=cred] at (78pt,-305pt) {A$_{\text{2u}}$};
\node[text=cgreen] at (133pt,-293pt) {A$_{\text{2u}}$};
\node[text=cpurp] at (158pt,-300pt) {A$^{\text{2}}_{\text{1g}}$};
\node[text=cblue] at (210pt,-315pt) {4LM};
\node[text=cred] at (88pt,-388pt) {A$^{\text{2}}$};
\node[text=cred] at (210pt,-392pt) {\textit{t}(1+3)LM};
% (a) BR
\node[text=cred] at (287pt,-290pt) {A$^{\q}_{\text{1}}$};
\node[text=cblue] at (306pt,-285pt) {A$^{\qq}_{\text{2}}$};
\node[text=cgreen] at (321pt,-265pt) {A$^{\q}_{\text{1}}$};
\node[text=cpink] at (350pt,-300pt) {A$^{\qq}_{\text{2}}$};
\node[text=cmag] at (375pt,-253pt) {A$^{\q}_{\text{1}}$};
\node[text=cblue] at (428pt,-308pt) {5LM};
\node[text=cred] at (299pt,-385pt) {A$^{\text{2}}$};
\node[text=cred] at (426pt,-395pt) {\textit{t}(2+3)LM};
% (b),(c)
\node[text=cblue] at (637pt,-20pt) {\textit{N}LM};
\node[text=cblue, font=\fontsize{15}{17}\selectfont\sffamily] at (555pt,-140pt) {\textit{j}\,=\,1};
\node[text=cblue, font=\fontsize{15}{17}\selectfont\sffamily] at (597pt,-119pt) {\textit{j}\,=\,2};
\node[text=cblue, font=\fontsize{15}{17}\selectfont\sffamily] at (658pt,-88pt) {\textit{j}\,=\,3};
\node[text=cblue, font=\fontsize{15}{17}\selectfont\sffamily] at (713pt,-83pt) {\textit{j}\,=\,4};
\node[text=cred, font=\fontsize{15}{17}\selectfont\sffamily] at (552pt,-343pt) {\textit{j}\,=\,1};
\node[text=cred, font=\fontsize{15}{17}\selectfont\sffamily] at (590pt,-320pt) {\textit{j}\,=\,2};
\node[text=cred, font=\fontsize{15}{17}\selectfont\sffamily] at (652pt,-288pt) {\textit{j}\,=\,3};
\node[text=cred, font=\fontsize{15}{17}\selectfont\sffamily] at (707pt,-285pt) {\textit{j}\,=\,4};
% (d) TL
\node[text=cred] at (849pt,-70pt) {E};
\node at (965pt,-72pt) {E$^{\q}$-like};
\node[text=cred] at (977pt,-123pt) {\textit{t}(1+1)LM};
\node[text=cblue] at (843pt,-165pt) {E$^{\q}$};
\node[text=cblue] at (972pt,-210pt) {1LM};
% (d) TR
\node[text=cred] at (1065pt,-70pt) {E};
\node at (1192pt,-73pt) {E$^{\q}$-like};
\node[text=cred] at (1183pt,-123pt) {\textit{t}(1+2)LM};
\node[text=cblue] at (1053pt,-157pt) {E$^{\text{1}}_{\text{g}}$};
\node[text=cblue] at (1188pt,-170pt) {2LM};
\node[text=cblue] at (1062pt,-198pt) {E$^{\q}$};
\node[text=cblue] at (1188pt,-212pt) {1LM};
% (d) BL
\node[text=cred] at (847pt,-252pt) {E};
\node[text=cred] at (973pt,-305pt) {\textit{t}(1+3)LM};
\node[text=cblue] at (843pt,-340pt) {E$^{\q}$};
\node[text=cblue] at (968pt,-350pt) {3LM};
\node[text=cblue] at (842pt,-382pt) {E$^{\q}$};
\node[text=cblue] at (968pt,-392pt) {1LM};
% (d) BR
\node[text=cred] at (1065pt,-254pt) {E};
\node[text=cred] at (1183pt,-307pt) {\textit{t}(2+3)LM};
\node[text=cblue] at (1058pt,-335pt) {E$^{\q}$};
\node[text=cblue] at (1183pt,-353pt) {3LM};
\node[text=cblue] at (1053pt,-387pt) {E$^{\text{1}}_{\text{g}}$};
\node[text=cblue] at (1183pt,-395pt) {2LM};
\end{scope}
\pgfresetboundingbox
\path[use as bounding box] (0pt,0pt) rectangle (1226pt,-466pt);
\end{tikzpicture}
\end{document}
